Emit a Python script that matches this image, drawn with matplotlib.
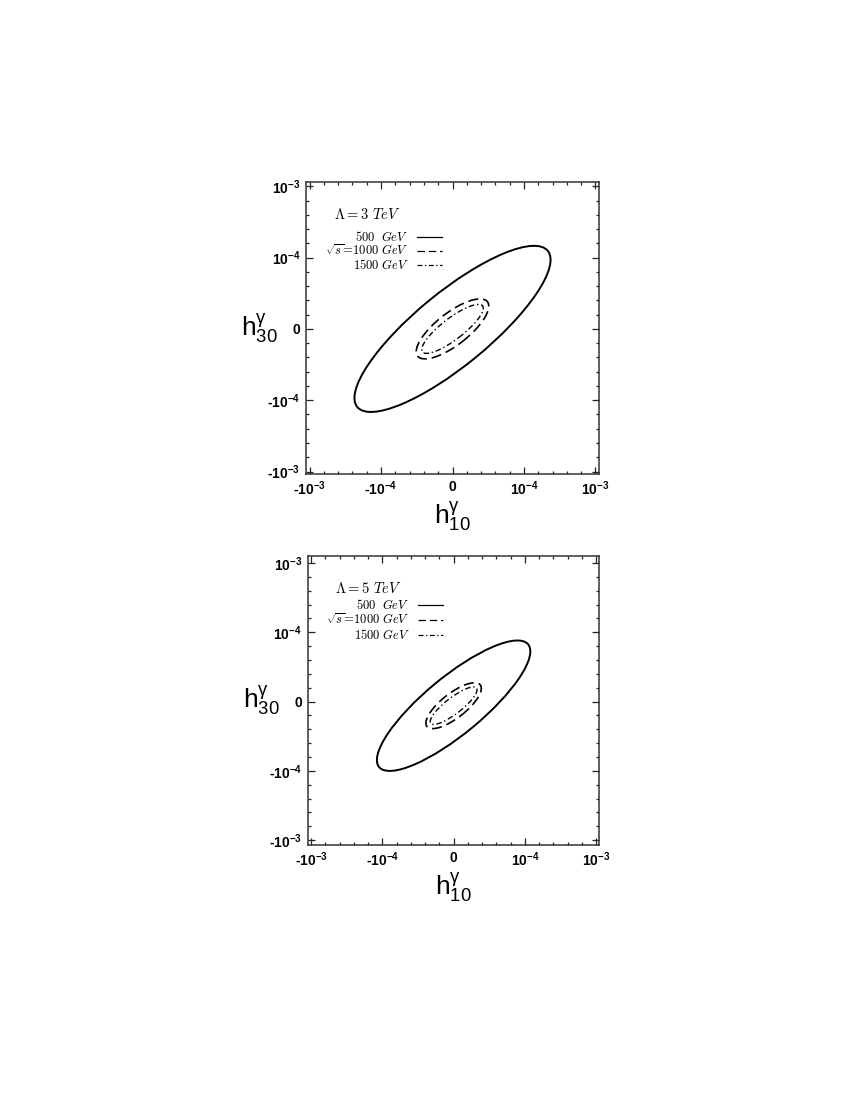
import matplotlib
matplotlib.use("Agg")
import matplotlib.pyplot as plt
from matplotlib.patches import Ellipse
from matplotlib.lines import Line2D
from matplotlib.ticker import FixedLocator, MultipleLocator

plt.rcParams["font.family"] = ["Liberation Sans", "DejaVu Sans"]
plt.rcParams["mathtext.fontset"] = "custom"
plt.rcParams["mathtext.rm"] = "Liberation Sans"
plt.rcParams["mathtext.it"] = "Liberation Sans:italic"
plt.rcParams["mathtext.bf"] = "Liberation Sans:bold"
plt.rcParams["axes.unicode_minus"] = False

# axis is drawn in "decade" units: -2 -> -1e-3, -1 -> -1e-4, 0, 1 -> 1e-4, 2 -> 1e-3
tick_pos = [-2, -1, 0, 1, 2]
tick_labels = [r"-10$^{\mathbf{-3}}$", r"-10$^{\mathbf{-4}}$", "0",
               r"10$^{\mathbf{-4}}$", r"10$^{\mathbf{-3}}$"]

energies = ["500", "1000", "1500"]
styles = ["-", (0, (6, 3)), (0, (4, 2, 1, 2))]
widths = [1.4, 1.2, 1.0]

# Lambda = 3 TeV : centre (x, y), full width, full height, angle (deg)
lam3_cx = [0.0, 0.0, 0.0]
lam3_cy = [0.0, 0.0, 0.0]
lam3_w = [3.45, 1.24, 1.06]
lam3_h = [1.03, 0.45, 0.30]
lam3_ang = [39.4, 38.0, 37.5]

# Lambda = 5 TeV
lam5_cx = [0.0, 0.0, 0.0]
lam5_cy = [-0.06, -0.06, -0.06]
lam5_w = [2.74, 0.96, 0.82]
lam5_h = [0.82, 0.35, 0.23]
lam5_ang = [40.4, 39.0, 38.5]


def draw_panel(ax, lam, cx, cy, w, h, ang, xlim, ylim, leg_y):
    for i in range(len(energies)):
        ax.add_patch(Ellipse((cx[i], cy[i]), w[i], h[i], angle=ang[i], fill=False,
                             color="black", linestyle=styles[i], linewidth=widths[i]))
    ax.set_xlim(*xlim)
    ax.set_ylim(*ylim)
    for axis in (ax.xaxis, ax.yaxis):
        axis.set_major_locator(FixedLocator(tick_pos))
        axis.set_minor_locator(MultipleLocator(0.2))
    ax.set_xticklabels(tick_labels, fontweight="bold")
    ax.set_yticklabels(tick_labels, fontweight="bold")
    ax.tick_params(which="both", direction="in", top=True, right=True,
                   labelsize=10, width=0.9, color="#222222")
    ax.tick_params(which="major", length=5, pad=4)
    ax.tick_params(which="minor", length=2.5)
    for s in ax.spines.values():
        s.set_linewidth(1.1)
        s.set_color("#333333")

    ax.set_xlabel(r"$\mathrm{h}_{10}^{\mathrm{\gamma}}$", fontsize=19, labelpad=1)
    ax.set_ylabel(r"$\mathrm{h}_{30}^{\mathrm{\gamma}}$", fontsize=19, rotation=0,
                  va="center", ha="right")
    ax.yaxis.set_label_coords(-0.095, 0.5)

    ax.text(0.095, leg_y[0], r"$\Lambda = %s\ TeV$" % lam, transform=ax.transAxes,
            fontsize=10.5, va="center", ha="left", math_fontfamily="cm")
    labels = [r"$500\ \ GeV$", r"$\sqrt{s}\!=\!1000\ GeV$", r"$1500\ GeV$"]
    for i in range(len(energies)):
        ax.text(0.35, leg_y[i + 1], labels[i], transform=ax.transAxes, fontsize=9,
                va="center", ha="right", math_fontfamily="cm")
        ax.add_line(Line2D([0.38, 0.465], [leg_y[i + 1]] * 2, transform=ax.transAxes,
                           color="black", linestyle=styles[i], linewidth=0.9))


fig = plt.figure(figsize=(8.5, 11), dpi=100)
ax1 = fig.add_axes([306 / 850, 1 - 474 / 1100, 293 / 850, 292 / 1100])
ax2 = fig.add_axes([307.5 / 850, 1 - 845 / 1100, 291.5 / 850, 289 / 1100])

draw_panel(ax1, "3", lam3_cx, lam3_cy, lam3_w, lam3_h, lam3_ang,
           (-2.05, 2.05), (-2.035, 2.06), [0.887, 0.812, 0.764, 0.717])
draw_panel(ax2, "5", lam5_cx, lam5_cy, lam5_w, lam5_h, lam5_ang,
           (-2.05, 2.04), (-2.07, 2.1), [0.889, 0.832, 0.779, 0.726])

fig.savefig("out.png", dpi=100)
